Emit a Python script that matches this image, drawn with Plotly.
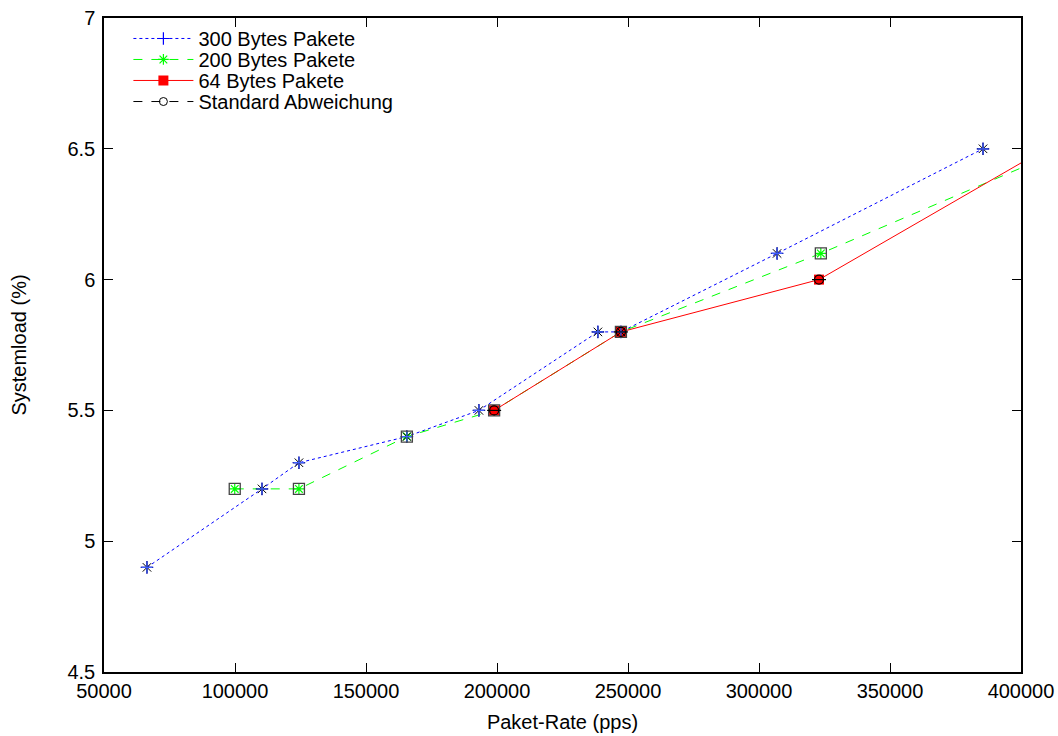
import plotly.graph_objects as go

# Data
x300 = [66400, 110300, 124400, 165600, 193100, 238500, 247300, 306900, 385500]
y300 = [4.9, 5.2, 5.3, 5.4, 5.5, 5.8, 5.8, 6.1, 6.5]

x200 = [99900, 124400, 165600, 198900, 247300, 323600, 430000]
y200 = [5.2, 5.2, 5.4, 5.5, 5.8, 6.1, 6.555]

x64 = [198900, 247300, 322900, 450000]
y64 = [5.5, 5.8, 6.0, 6.735]

x_ticks = [50000, 100000, 150000, 200000, 250000, 300000, 350000, 400000]
y_ticks = [4.5, 5, 5.5, 6, 6.5, 7]

FONT = "Liberation Sans, Arial, sans-serif"
FS = 20

fig = go.Figure()

# main series (each in its own legend so the legend rows can be packed tightly)
fig.add_trace(go.Scatter(
    x=x300, y=y300, mode="lines+markers", name="300 Bytes Pakete", legend="legend",
    line=dict(color="#0000ff", width=1, dash="dot"),
    marker=dict(symbol="cross-thin-open", size=9, color="#0000ff",
                line=dict(color="#0000ff", width=1.2)),
))
fig.add_trace(go.Scatter(
    x=x200, y=y200, mode="lines+markers", name="200 Bytes Pakete", legend="legend2",
    line=dict(color="#00ff00", width=1, dash="dash"),
    marker=dict(symbol="asterisk-open", size=9, color="#00ff00",
                line=dict(color="#00ff00", width=1.2)),
))
fig.add_trace(go.Scatter(
    x=x64, y=y64, mode="lines+markers", name="64 Bytes Pakete", legend="legend3",
    line=dict(color="#ff0000", width=1),
    marker=dict(symbol="square", size=10, color="#ff0000"),
))

# standard deviation overlays (tiny error bars shown as black marks)
fig.add_trace(go.Scatter(
    x=x300, y=y300, mode="markers", showlegend=False, hoverinfo="skip",
    marker=dict(symbol="asterisk-open", size=10, color="black",
                line=dict(color="black", width=1)),
))
fig.add_trace(go.Scatter(
    x=x300, y=y300, mode="markers", showlegend=False, hoverinfo="skip",
    marker=dict(symbol="cross-thin-open", size=8, color="#4060ff",
                line=dict(color="#4060ff", width=1.2)),
))
fig.add_trace(go.Scatter(
    x=x200, y=y200, mode="markers", showlegend=False, hoverinfo="skip",
    marker=dict(symbol="square-open", size=11, color="#444444",
                line=dict(color="#444444", width=1.3)),
))
fig.add_trace(go.Scatter(
    x=x64, y=y64, mode="markers", showlegend=False, hoverinfo="skip",
    marker=dict(symbol="circle-open", size=9, color="black",
                line=dict(color="black", width=1.2)),
))
fig.add_trace(go.Scatter(
    x=x64, y=y64, mode="markers", showlegend=False, hoverinfo="skip",
    marker=dict(symbol="line-ew-open", size=10, color="black",
                line=dict(color="black", width=1.2)),
))
# legend entry for standard deviation
fig.add_trace(go.Scatter(
    x=[None], y=[None], mode="lines+markers", name="Standard Abweichung", legend="legend4",
    line=dict(color="black", width=1, dash="dash"),
    marker=dict(symbol="circle-open", size=8, color="black",
                line=dict(color="black", width=1)),
))

axis_common = dict(
    showline=True, linecolor="black", linewidth=1.5, mirror="ticks",
    ticks="inside", ticklen=9, tickwidth=1.2, tickcolor="black",
    showgrid=False, zeroline=False, automargin=False,
    ticklabeloverflow="allow",
    tickfont=dict(family=FONT, size=FS, color="black"),
)

legend_common = dict(
    x=0.0266, xanchor="left", yanchor="top",
    bgcolor="rgba(0,0,0,0)", borderwidth=0,
    font=dict(family=FONT, size=FS), itemwidth=60,
)

fig.update_layout(
    width=1058, height=736,
    paper_bgcolor="white", plot_bgcolor="white",
    margin=dict(l=104, r=37, t=18, b=64),
    font=dict(family=FONT, size=FS, color="black"),
    xaxis=dict(range=[50000, 400000], tickvals=x_ticks,
               ticktext=[str(v) for v in x_ticks],
               title=dict(text="Paket-Rate (pps)", standoff=14,
                          font=dict(family=FONT, size=FS)),
               **axis_common),
    yaxis=dict(range=[4.5, 7], tickvals=y_ticks,
               ticktext=[f"{v:g}" for v in y_ticks],
               ticklabelstandoff=3,
               title=dict(text="Systemload (%)", standoff=35,
                          font=dict(family=FONT, size=FS)),
               **axis_common),
    legend=dict(y=0.9985, **legend_common),
    legend2=dict(y=0.9664, **legend_common),
    legend3=dict(y=0.9343, **legend_common),
    legend4=dict(y=0.9021, **legend_common),
    showlegend=True,
)

fig.write_html(
    "out.html",
    config={"displayModeBar": False},
    post_script="document.body.style.margin='0';document.body.style.overflow='hidden';",
)
